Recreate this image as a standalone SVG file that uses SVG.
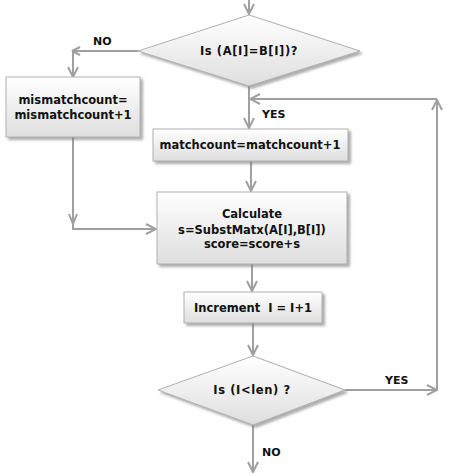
<svg xmlns="http://www.w3.org/2000/svg" width="474" height="474" viewBox="0 0 474 474">
<defs>
<linearGradient id="g" x1="0" y1="0" x2="0" y2="1">
<stop offset="0" stop-color="#ffffff"/>
<stop offset="1" stop-color="#dedede"/>
</linearGradient>
<filter id="sh" x="-10%" y="-10%" width="130%" height="140%">
<feDropShadow dx="2.5" dy="2.5" stdDeviation="1.2" flood-color="#777" flood-opacity="0.6"/>
</filter>
<marker id="ar" viewBox="0 0 12 12" refX="11" refY="6" markerWidth="12" markerHeight="12" markerUnits="userSpaceOnUse" orient="auto">
<path d="M1,1 L11,6 L1,11" fill="none" stroke="#a0a0a0" stroke-width="2"/>
</marker>
</defs>
<style>
.n{fill:url(#g);stroke:#b0b0b0;stroke-width:1;filter:url(#sh)}
.c{fill:none;stroke:#a0a0a0;stroke-width:2}
.t{font-family:"DejaVu Sans",Verdana,sans-serif;font-weight:bold;font-size:11.5px;fill:#111;text-anchor:middle}
.w{letter-spacing:0.6px}
.l{font-family:"DejaVu Sans",Verdana,sans-serif;font-weight:bold;font-size:11px;fill:#111}
</style>
<rect width="474" height="474" fill="#fff"/>
<g id="connectors">
<path class="c" d="M249,0 V14" marker-end="url(#ar)"/>
<path class="c" d="M138,51 H72"/>
<path class="c" d="M72,51 L80,47 M72,51 L80,55"/>
<path class="c" d="M73,51 V77" marker-end="url(#ar)"/>
<path class="c" d="M249,86 V128" marker-end="url(#ar)"/>
<path class="c" d="M251,161 V191" marker-end="url(#ar)"/>
<path class="c" d="M73,137 V229 H156" marker-end="url(#ar)"/>
<path class="c" d="M69,214 L73,224 L77,214"/>
<path class="c" d="M252,264 V291" marker-end="url(#ar)"/>
<path class="c" d="M253,323 V355" marker-end="url(#ar)"/>
<path class="c" d="M345,390 H437" marker-end="url(#ar)"/>
<path class="c" d="M437,390 V100" marker-end="url(#ar)"/>
<path class="c" d="M437,99 H250" marker-end="url(#ar)"/>
<path class="c" d="M253,425 V472" marker-end="url(#ar)"/>
<text class="l" x="93" y="45">NO</text>
<text class="l" x="262" y="118">YES</text>
<text class="l" x="385" y="384">YES</text>
<text class="l" x="262" y="456">NO</text>
</g>
<g id="d1">
<polygon class="n" points="249,15 360,51 249,86 138,51"/>
<text class="t w" x="249" y="55">Is (A[I]=B[I])?</text>
</g>
<g id="mismatch">
<rect class="n" x="6" y="77" width="134" height="60"/>
<text class="t" x="73" y="104">mismatchcount=</text>
<text class="t" x="73" y="119">mismatchcount+1</text>
</g>
<g id="match">
<rect class="n" x="153" y="129" width="195" height="32"/>
<text class="t" x="250" y="149">matchcount=matchcount+1</text>
</g>
<g id="calc">
<rect class="n" x="157" y="192" width="190" height="72"/>
<text class="t" x="252" y="218">Calculate</text>
<text class="t" x="252" y="234">s=SubstMatx(A[I],B[I])</text>
<text class="t" x="252" y="248">score=score+s</text>
</g>
<g id="inc">
<rect class="n" x="184" y="292" width="138" height="31"/>
<text class="t" x="253" y="312" xml:space="preserve">Increment  I = I+1</text>
</g>
<g id="d2">
<polygon class="n" points="253,356 345,390 253,425 158,390"/>
<text class="t w" x="252" y="394">Is (I&lt;len) ?</text>
</g>
</svg>
